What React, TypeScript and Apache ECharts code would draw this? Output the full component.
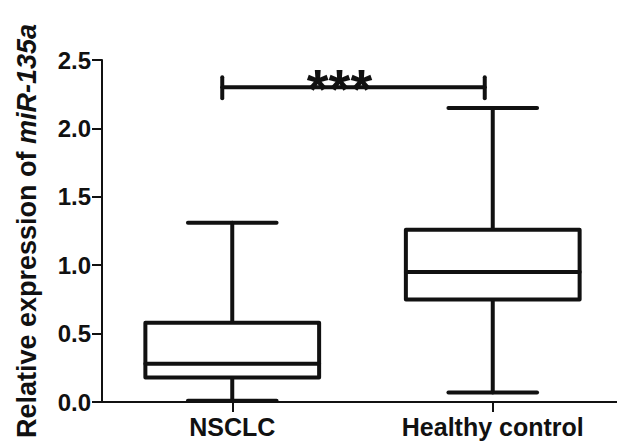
import React, { useEffect, useRef } from "react";
import * as echarts from "echarts";

const categories = ["NSCLC", "Healthy control"];
const whiskerMin = [0.01, 0.07];
const quartile1 = [0.18, 0.75];
const medians = [0.28, 0.95];
const quartile3 = [0.58, 1.26];
const whiskerMax = [1.31, 2.15];
const yMin = 0;
const yMax = 2.5;
const yInterval = 0.5;
const bracketLevel = 2.3;
const significance = "***";

const FONT = "'Liberation Sans', Arial, Helvetica, sans-serif";
const INK = "#111111";

export default function App() {
  const ref = useRef<HTMLDivElement>(null);

  useEffect(() => {
    document.body.style.margin = "0";
    if (!ref.current) return;
    const chart = echarts.init(ref.current, undefined, { renderer: "svg" });

    const boxData = categories.map((_, i) => [
      i,
      whiskerMin[i],
      quartile1[i],
      medians[i],
      quartile3[i],
      whiskerMax[i],
    ]);

    const option: any = {
      animation: false,
      backgroundColor: "#ffffff",
      grid: {
        left: 102,
        right: -6,
        top: 60,
        bottom: 39,
        containLabel: false,
        outerBoundsMode: "none",
      },
      xAxis: {
        type: "category",
        data: categories,
        boundaryGap: true,
        axisLine: { show: true, lineStyle: { color: INK, width: 2 } },
        axisTick: { show: true, alignWithLabel: true, length: 10, lineStyle: { color: INK, width: 2 } },
        axisLabel: {
          color: INK,
          fontFamily: FONT,
          fontWeight: "bold",
          fontSize: 25,
          margin: 12,
        },
        splitLine: { show: false },
      },
      yAxis: {
        type: "value",
        min: yMin,
        max: yMax,
        interval: yInterval,
        name: "{a|Relative expression of }{b|miR-135a}",
        nameLocation: "middle",
        nameGap: 62,
        nameTextStyle: {
          color: INK,
          fontFamily: FONT,
          fontWeight: "bold",
          fontSize: 27,
          rich: {
            a: { fontFamily: FONT, fontWeight: "bold", fontSize: 27, color: INK },
            b: { fontFamily: FONT, fontWeight: "bold", fontStyle: "italic", fontSize: 27, color: INK },
          },
        },
        axisLine: { show: true, lineStyle: { color: INK, width: 2 } },
        axisTick: { show: true, length: 10, lineStyle: { color: INK, width: 2 } },
        axisLabel: {
          color: INK,
          fontFamily: FONT,
          fontWeight: "bold",
          fontSize: 24,
          margin: 11,
          formatter: (v: number) => v.toFixed(1),
        },
        splitLine: { show: false },
      },
      series: [
        {
          type: "custom",
          name: "box",
          data: boxData,
          encode: { x: 0, y: [1, 2, 3, 4, 5] },
          clip: false,
          renderItem: (_params: any, api: any) => {
            const idx = api.value(0);
            const cx = api.coord([idx, api.value(3)])[0];
            const yLo = api.coord([idx, api.value(1)])[1];
            const yQ1 = api.coord([idx, api.value(2)])[1];
            const yMed = api.coord([idx, api.value(3)])[1];
            const yQ3 = api.coord([idx, api.value(4)])[1];
            const yHi = api.coord([idx, api.value(5)])[1];
            const band = api.size([1, 0])[0];
            const bw = band * 0.667;
            const cw = bw * 0.51;
            const st = {
              stroke: INK,
              lineWidth: 4,
              lineCap: "round",
              lineJoin: "round",
              fill: "none",
            };
            return {
              type: "group",
              children: [
                { type: "line", shape: { x1: cx, y1: yQ3, x2: cx, y2: yHi }, style: st },
                { type: "line", shape: { x1: cx - cw / 2, y1: yHi, x2: cx + cw / 2, y2: yHi }, style: st },
                { type: "line", shape: { x1: cx, y1: yQ1, x2: cx, y2: yLo }, style: st },
                { type: "line", shape: { x1: cx - cw / 2, y1: yLo, x2: cx + cw / 2, y2: yLo }, style: st },
                {
                  type: "rect",
                  shape: { x: cx - bw / 2, y: yQ3, width: bw, height: yQ1 - yQ3 },
                  style: { ...st, fill: "#ffffff" },
                },
                { type: "line", shape: { x1: cx - bw / 2, y1: yMed, x2: cx + bw / 2, y2: yMed }, style: st },
              ],
            };
          },
        },
        {
          type: "custom",
          name: "significance",
          data: [[0, 1, bracketLevel]],
          encode: { x: [0, 1], y: 2 },
          clip: false,
          renderItem: (_params: any, api: any) => {
            const p0 = api.coord([api.value(0), api.value(2)]);
            const p1 = api.coord([api.value(1), api.value(2)]);
            const y = p0[1];
            const x0 = p0[0] - 10;
            const x1 = p1[0] - 8;
            const st = { stroke: INK, lineWidth: 4, lineCap: "round", fill: "none" };
            return {
              type: "group",
              children: [
                { type: "line", shape: { x1: x0, y1: y, x2: x1, y2: y }, style: st },
                { type: "line", shape: { x1: x0, y1: y - 10, x2: x0, y2: y + 11 }, style: st },
                { type: "line", shape: { x1: x1, y1: y - 10, x2: x1, y2: y + 11 }, style: st },
                {
                  type: "text",
                  x: (x0 + x1) / 2 - 14,
                  y: y + 1,
                  style: {
                    text: significance,
                    fontFamily: FONT,
                    fontWeight: "bold",
                    fontSize: 56,
                    fill: INK,
                    align: "center",
                    verticalAlign: "middle",
                  },
                },
              ],
            };
          },
        },
      ],
    };

    chart.setOption(option);
    return () => chart.dispose();
  }, []);

  return <div ref={ref} style={{ width: 617, height: 441 }} />;
}
